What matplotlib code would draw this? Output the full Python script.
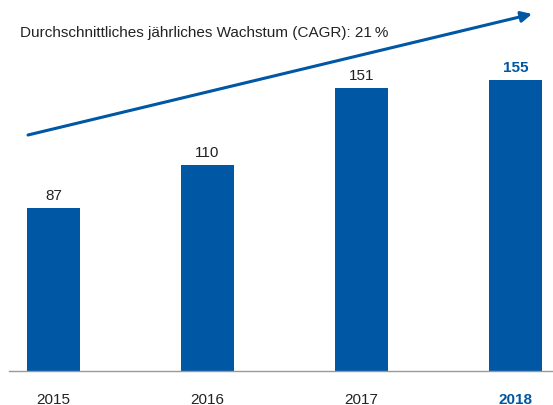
import matplotlib.pyplot as plt

plt.rcParams['font.family'] = ['Liberation Sans', 'DejaVu Sans']

years = ['2015', '2016', '2017', '2018']
values = [87, 110, 151, 155]
title = 'Durchschnittliches jährliches Wachstum (CAGR): 21\u2009%'

blue = '#0057A3'
dark = '#222222'

fig = plt.figure(figsize=(5.53, 4.05), dpi=100)
ax = fig.add_axes([9 / 553, 34 / 405, 544 / 553, 371 / 405])

pos = list(range(len(values)))
ax.bar(pos, values, width=0.344, color=blue)
ax.set_xlim(-0.289, 3.244)
ax.set_ylim(0, 197.7)

for i, v in enumerate(values):
    last = i == len(values) - 1
    ax.annotate(str(v), (i, v), xytext=(0, 3.5), textcoords='offset points',
                ha='center', va='bottom', fontsize=11,
                color=blue if last else dark,
                fontweight='bold' if last else 'normal')

ax.set_xticks(pos)
ax.set_xticklabels(years, fontsize=11, color=dark)
ax.get_xticklabels()[-1].set_fontweight('bold')
ax.get_xticklabels()[-1].set_color(blue)
ax.tick_params(axis='x', length=0, pad=15.5)
ax.set_yticks([])
for s in ['top', 'right', 'left']:
    ax.spines[s].set_visible(False)
ax.spines['bottom'].set_color('#999999')
ax.spines['bottom'].set_linewidth(1.0)

# CAGR arrow
fig.text(20 / 553, 1 - 33 / 405, title, fontsize=11, color=dark, va='center')
ax.annotate('', xy=(532 / 553, 1 - 14 / 405), xytext=(28 / 553, 1 - 135 / 405),
            xycoords='figure fraction', textcoords='figure fraction',
            arrowprops=dict(arrowstyle='-|>', color=blue, lw=2.2,
                            mutation_scale=16, shrinkA=0, shrinkB=0))

fig.savefig('out.png', dpi=100)
